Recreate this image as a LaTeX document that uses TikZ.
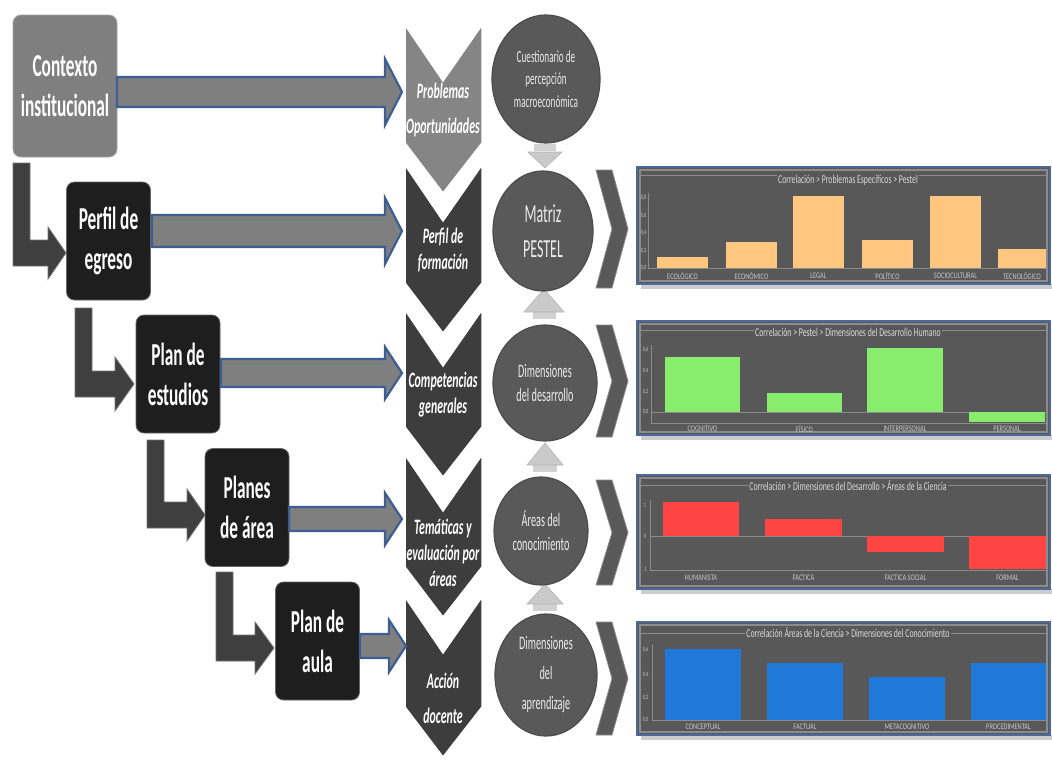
\documentclass[tikz,border=0pt]{standalone}
\usepackage{fontspec}
\setmainfont{Carlito}
\newfontfamily\cf[FakeStretch=0.54]{Carlito}
\newfontfamily\cft[FakeStretch=0.65]{Carlito}
\newfontfamily\cfl[FakeStretch=0.75]{Carlito}
\usetikzlibrary{shapes.geometric,calc}

\definecolor{boxgray}{HTML}{7F7F7F}
\definecolor{boxblack}{HTML}{1E1E1E}
\definecolor{chevlight}{HTML}{858585}
\definecolor{chevdark}{HTML}{3D3D3D}
\definecolor{circgray}{HTML}{595959}
\definecolor{arrblue}{HTML}{3C5E92}
\definecolor{arrgray}{HTML}{7F7F7F}
\definecolor{bentgray}{HTML}{3F3F3F}
\definecolor{chartbg}{HTML}{585858}
\definecolor{chartframe}{HTML}{4A6A9C}
\definecolor{barorange}{HTML}{FFC680}
\definecolor{bargreen}{HTML}{88EC6C}
\definecolor{barred}{HTML}{FF4444}
\definecolor{barblue}{HTML}{2079D9}
\definecolor{axisgray}{HTML}{8C8C8C}
\definecolor{labelgray}{HTML}{C8C8C8}
\definecolor{trigray}{HTML}{CACACA}

\newcommand\chevdown[3]{\filldraw[chevshape, fill=#3] (405,#1) -- (443,#1+56) -- (482,#1) -- (482,#2-50) -- (443,#2) -- (405,#2-50) -- cycle;}
\newcommand\chevright[2]{\filldraw[rchev] (596,#1) -- (612,#1) -- (628,{(#1+#2)/2}) -- (612,#2) -- (596,#2) -- (612,{(#1+#2)/2}) -- cycle;}
\newcommand\blockarrow[5]{\filldraw[blockarr] (#1,#3-#4) -- (#2-17,#3-#4) -- (#2-17,#3-#5) -- (#2,#3) -- (#2-17,#3+#5) -- (#2-17,#3+#4) -- (#1,#3+#4) -- cycle;}
\newcommand\bentarrow[8]{\filldraw[bentarr] (#1,#2) -- (#1+17,#2) -- (#1+17,#3) -- (#5,#3) -- (#5,#7) -- (#6,{(#3+#4)/2}) -- (#5,#8) -- (#5,#4) -- (#1,#4) -- cycle;}
\newcommand\chartpanel[3]{%
  \fill[black!20] (641,#2) rectangle (1052,#2+5);
  \filldraw[fill=chartbg, draw=chartframe, line width=2pt] (637,#1) rectangle (1050,#2);
  \draw[black!45, line width=1.2pt] (640,#1+3) rectangle (1047,#2-3);
  \draw[axisgray, line width=0.6pt] (641,#3) -- (1046,#3);}

\begin{document}
\begin{tikzpicture}[x=1pt,y=-1pt,
  stagebox/.style={rounded corners=8pt, inner sep=0pt, text=white, align=center,
    font=\cf\bfseries\fontsize{32}{40}\selectfont},
  darkbox/.style={stagebox, fill=boxblack, draw=black!60, line width=0.8pt,
    minimum width=84pt, minimum height=118pt},
  chevshape/.style={draw=white, line width=1.5pt},
  chevtext/.style={text=white, align=center, inner sep=0pt,
    font=\cf\bfseries\itshape\fontsize{22}{26}\selectfont},
  circ/.style={ellipse, fill=circgray, draw=black!70, line width=1.2pt, inner sep=0pt,
    text=white!92!black, align=center},
  rchev/.style={fill=circgray, draw=black!45, line width=0.8pt},
  blockarr/.style={fill=arrgray, draw=arrblue, line width=2.2pt, line join=miter},
  bentarr/.style={fill=bentgray, draw=black!55, line width=0.8pt},
  tri/.style={fill=trigray, draw=black!30, line width=0.6pt},
  trib/.style={fill=black!18},
  charttitle/.style={fill=chartbg, inner sep=1pt, text=white!85!black,
    font=\cft\fontsize{12}{14}\selectfont},
  catlabel/.style={inner sep=0pt, text=labelgray, font=\cfl\fontsize{8.5}{10}\selectfont},
  ylabel/.style={inner sep=0pt, text=labelgray, font=\cft\fontsize{6.5}{7}\selectfont},
  axis/.style={axisgray, line width=0.6pt}
]
\useasboundingbox (0,0) rectangle (1052,761);
\fill[white] (0,0) rectangle (1052,761);

% ---------- bent arrows ----------
\bentarrow{13}{163}{240}{266}{48}{66}{227}{279}
\bentarrow{75}{308}{371}{397}{115}{134}{357}{411}
\bentarrow{147}{440}{502}{528}{187}{205}{489}{541}
\bentarrow{216}{572}{635}{661}{255}{274}{622}{674}

% ---------- stage boxes ----------
\node[stagebox, fill=boxgray, draw=black!35, line width=0.8pt,
  minimum width=104pt, minimum height=142pt] (b1) at (65,86) {Contexto\\institucional};
\node[darkbox] (b2) at (108.5,241) {Perfil de\\egreso};
\node[darkbox] (b3) at (178,374) {Plan de\\estudios};
\node[darkbox] (b4) at (247,507.5) {Planes\\de área};
\node[darkbox] (b5) at (317.5,641) {Plan de\\aula};

% ---------- downward chevrons ----------
\chevdown{25}{193}{chevlight}
\chevdown{165}{333}{chevdark}
\chevdown{310}{477}{chevdark}
\chevdown{455}{617}{chevdark}
\chevdown{597}{757}{chevdark}

\node[chevtext, font=\cf\bfseries\itshape\fontsize{22}{35}\selectfont] (h1) at (443,110) {Problemas\\Oportunidades};
\node[chevtext] (h2) at (443,250) {Perfil de\\formación};
\node[chevtext] (h3) at (443,395) {Competencias\\generales};
\node[chevtext] (h4) at (443,553) {Temáticas y\\evaluación por\\áreas};
\node[chevtext, font=\cf\bfseries\itshape\fontsize{22}{35}\selectfont] (h5) at (443,698) {Acción\\docente};

% ---------- block arrows ----------
\blockarrow{117}{402}{92}{15}{33}
\blockarrow{152}{402}{231}{16}{33}
\blockarrow{221}{402}{373}{14}{26}
\blockarrow{289}{402}{519}{12}{26}
\blockarrow{360}{406}{646}{12}{26}

% ---------- small triangles between circles ----------
\fill[trib] (534,144) rectangle (556,151);
\filldraw[tri] (528,152) -- (562,152) -- (545,168) -- cycle;
\fill[trib] (533,312) rectangle (556,319);
\filldraw[tri] (524,312) -- (564,312) -- (544,289) -- cycle;
\fill[trib] (533,465) rectangle (557,472);
\filldraw[tri] (527,465) -- (563,465) -- (545,443) -- cycle;
\fill[trib] (533,604) rectangle (557,611);
\filldraw[tri] (527,604) -- (563,604) -- (545,584) -- cycle;

% ---------- circles ----------
\node[circ, minimum width=108pt, minimum height=128pt,
  font=\cf\fontsize{17}{22.5}\selectfont] (c1) at (546,79) {Cuestionario de\\percepción\\macroeconómica};
\node[circ, minimum width=100pt, minimum height=120pt,
  font=\cf\fontsize{26}{35}\selectfont] (c2) at (543,231) {Matriz\\PESTEL};
\node[circ, minimum width=104pt, minimum height=116pt,
  font=\cf\fontsize{19}{24}\selectfont] (c3) at (545,383) {Dimensiones\\del desarrollo};
\node[circ, minimum width=94pt, minimum height=108pt,
  font=\cf\fontsize{19}{24}\selectfont] (c4) at (541,531) {Áreas del\\conocimiento};
\node[circ, minimum width=102pt, minimum height=122pt,
  font=\cf\fontsize{19}{30}\selectfont] (c5) at (546,675) {Dimensiones\\del\\aprendizaje};

% ---------- right chevrons ----------
\chevright{170}{288}
\chevright{325}{437}
\chevright{480}{585}
\chevright{622}{735}

% ---------- chart 1 ----------
\chartpanel{167}{284}{175}
\node[charttitle] (t1) at (848,180) {Correlación > Problemas Específicos > Pestel};
\draw[axis] (648,193) -- (648,268) -- (1046,268);
\fill[barorange] (657,257) rectangle (708,268);
\fill[barorange] (726,242) rectangle (777,268);
\fill[barorange] (793,196) rectangle (844,268);
\fill[barorange] (862,240) rectangle (913,268);
\fill[barorange] (930,196) rectangle (981,268);
\fill[barorange] (998,249) rectangle (1046,268);
\foreach \x/\t [count=\i] in {682.5/ECOLÓGICO,751.5/ECONÓMICO,818.5/LEGAL,887.5/POLÍTICO,955.5/SOCIOCULTURAL,1022/TECNOLÓGICO}
  \node[catlabel] (k1-\i) at (\x,275.5) {\t};
\foreach \y/\t [count=\i] in {198/{0,8},215.5/{0,6},233/{0,4},250.5/{0,2},268/{0,0}}
  \node[ylabel] (y1-\i) at (643.5,\y) {\t};

% ---------- chart 2 ----------
\chartpanel{321}{435}{330}
\node[charttitle] (t2) at (848,332) {Correlación > Pestel > Dimensiones del Desarrollo Humano};
\draw[axis] (651,345) -- (651,423) -- (1046,423);
\draw[axis] (651,412) -- (1046,412);
\fill[bargreen] (665,357) rectangle (740,412);
\fill[bargreen] (767,393) rectangle (842,412);
\fill[bargreen] (867,348) rectangle (943,412);
\fill[bargreen] (969,412) rectangle (1045,422);
\foreach \x/\t [count=\i] in {702.5/COGNITIVO,804.5/FÍSICO,905/INTERPERSONAL,1007/PERSONAL}
  \node[catlabel] (k2-\i) at (\x,428.5) {\t};
\foreach \y/\t [count=\i] in {350/{0,6},371/{0,4},392/{0,2},412/{0,0}}
  \node[ylabel] (y2-\i) at (645.5,\y) {\t};

% ---------- chart 3 ----------
\chartpanel{475}{589}{485}
\node[charttitle] (t3) at (848,486) {Correlación > Dimensiones del Desarrollo > Áreas de la Ciencia};
\draw[axis] (650,500) -- (650,570) -- (1046,570);
\draw[axis] (650,536) -- (1046,536);
\fill[barred] (663,502) rectangle (739,536);
\fill[barred] (765,519) rectangle (842,536);
\fill[barred] (867,536) rectangle (944,552);
\fill[barred] (969,536) rectangle (1046,569);
\foreach \x/\t [count=\i] in {701/HUMANISTA,803.5/FACTICA,905.5/FACTICA SOCIAL,1007.5/FORMAL}
  \node[catlabel] (k3-\i) at (\x,578) {\t};
\foreach \y/\t [count=\i] in {505/1,536/0,569/-1}
  \node[ylabel] (y3-\i) at (645,\y) {\t};

% ---------- chart 4 ----------
\chartpanel{622}{735}{633}
\node[charttitle] (t4) at (848,633) {Correlación Áreas de la Ciencia > Dimensiones del Conocimiento};
\draw[axis] (652,645) -- (652,720) -- (1046,720);
\fill[barblue] (665,649) rectangle (741,720);
\fill[barblue] (767,663) rectangle (843,720);
\fill[barblue] (869,677) rectangle (945,720);
\fill[barblue] (971,663) rectangle (1046,720);
\foreach \x/\t [count=\i] in {703/CONCEPTUAL,805/FACTUAL,907/METACOGNITIVO,1008.5/PROCEDIMENTAL}
  \node[catlabel] (k4-\i) at (\x,727) {\t};
\foreach \y/\t [count=\i] in {650/{0,6},675/{0,4},698/{0,2},720/{0,0}}
  \node[ylabel] (y4-\i) at (645.5,\y) {\t};
\end{tikzpicture}
\end{document}
